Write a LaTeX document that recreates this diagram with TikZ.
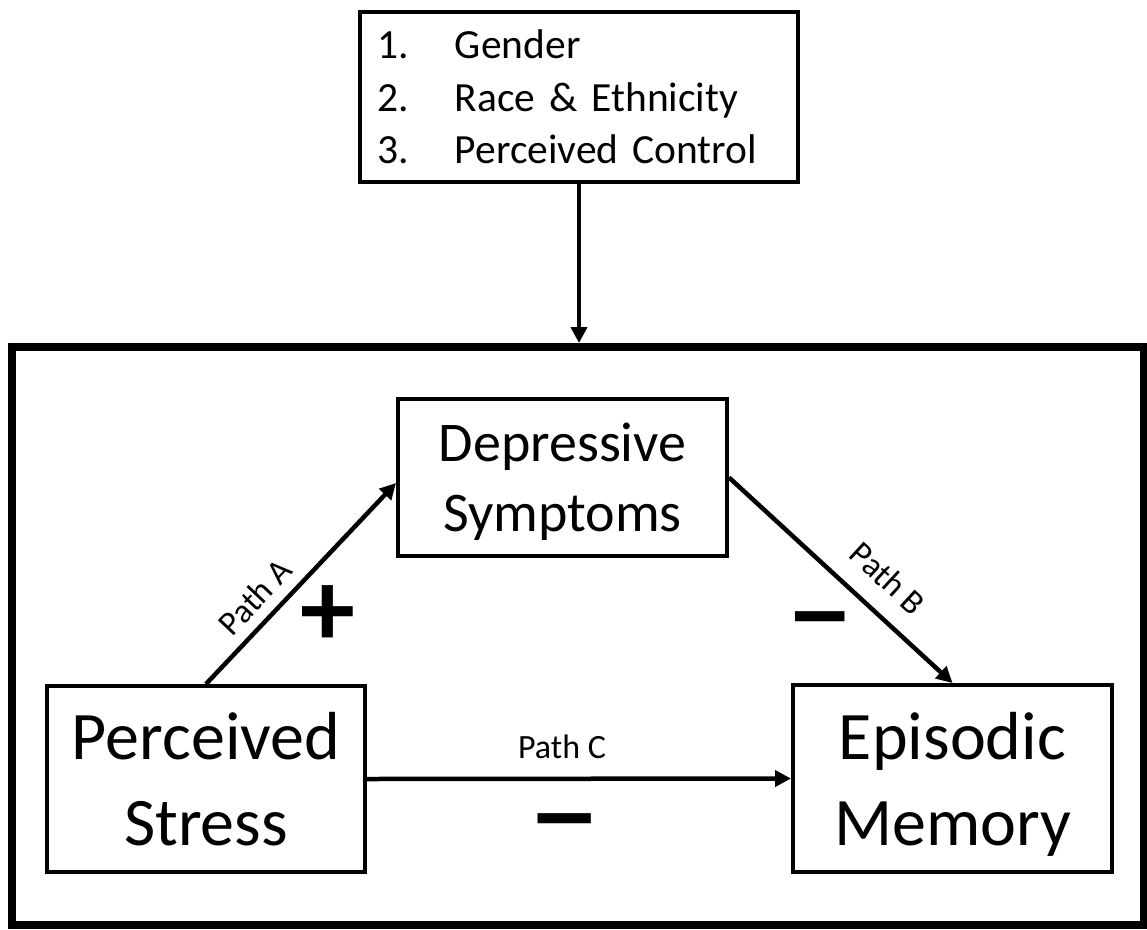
\documentclass[tikz,border=0pt]{standalone}
\usepackage{fontspec}
\usepackage{graphicx}
\setmainfont{Carlito}
\usetikzlibrary{arrows.meta}
\begin{document}
\begin{tikzpicture}[x=1pt,y=-1pt,
  box/.style={draw, line width=4pt, inner sep=0pt, align=center},
  conn/.style={line width=4.5pt, -{Triangle[length=16pt,width=16pt]}},
  pathlbl/.style={font=\fontsize{34}{40}\selectfont},
  sign/.style={font=\bfseries\fontsize{110}{110}\selectfont, inner sep=0pt},
  big/.style={font=\fontsize{68}{86}\selectfont, text depth=0pt},
  mid/.style={font=\fontsize{56}{70}\selectfont, text depth=0pt}]
\useasboundingbox (0,0) rectangle (1147,929);
\node[box, minimum height=170pt, inner xsep=17pt, text width=404pt, align=left,
      font=\fontsize{41.5}{52.5}\selectfont] (mods) at (579,97)
  {\makebox[78pt][l]{1.}Gender\\\makebox[78pt][l]{2.}Race \& Ethnicity\\\makebox[78pt][l]{3.}Perceived Control};
\node[draw, line width=8pt, minimum width=1132pt, minimum height=578pt] (frame) at (578,636) {};
\node[box, mid, minimum width=329pt, minimum height=157pt] (dep) at (562.5,477.5) {Depressive\\Symptoms};
\node[box, big, minimum width=318pt, minimum height=186pt] (ps) at (206,779) {Perceived\\Stress};
\node[box, big, minimum width=319pt, minimum height=187pt] (em) at (952.5,778.5) {Episodic\\Memory};
\draw[conn] (mods.south) -- (mods.south |- frame.north);
\draw[conn] (ps.north) -- node[pathlbl, sloped, above=7pt, pos=0.35] (la) {Path A} ([yshift=-5.5pt]dep.west);
\draw[conn] (dep.east) -- node[pathlbl, sloped, above=16pt, pos=0.61] (lb) {Path B} (em.north);
\draw[conn] (ps.east) -- node[pathlbl, above=14pt, pos=0.46] (lc) {Path C} (em.west);
\node[sign] (plusA) at (328,616) {+};
\node[sign] (minusB) at (820,632) {\scalebox{1.16}[1]{−}};
\node[sign] (minusC) at (565,834) {\scalebox{1.25}[1]{−}};
\end{tikzpicture}
\end{document}
